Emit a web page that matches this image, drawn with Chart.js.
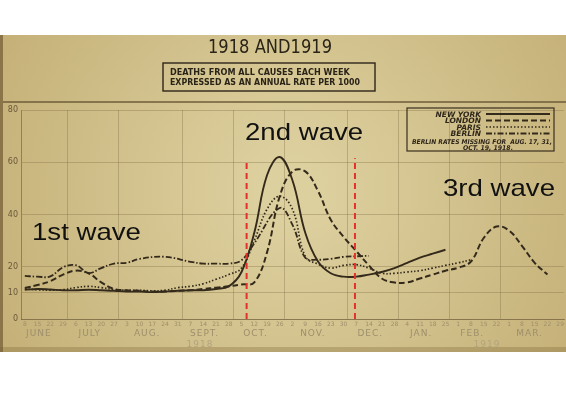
<!DOCTYPE html>
<html>
<head>
<meta charset="utf-8">
<script src="https://cdn.jsdelivr.net/npm/chart.js@4.4.1/dist/chart.umd.min.js"></script>
<style>
html, body { margin: 0; padding: 0; background: #fff; }
</style>
</head>
<body>
<canvas id="flu-chart" width="566" height="393"></canvas>
<script>
// week ending dates, June 1918 .. March 1919
const dayLabels = [8, 15, 22, 29, 6, 13, 20, 27, 3, 10, 17, 24, 31, 7, 14, 21, 28, 5, 12, 19, 26,
    2, 9, 16, 23, 30, 7, 14, 21, 28, 4, 11, 18, 25, 1, 8, 15, 22, 1, 8, 15, 22, 29];
const months = ["JUNE", "JULY", "AUG.", "SEPT.", "OCT.", "NOV.", "DEC.", "JAN.", "FEB.", "MAR."];
const monthWeeks = [4, 4, 5, 4, 4, 5, 4, 4, 4, 5];
const yTicks = [0, 10, 20, 40, 60, 80];

// deaths per 1000 (annual rate), one value per week from June 8
const newYork = [11.2, 11.5, 11.3, 11.0, 11.0, 11.2, 11.0, 10.8, 10.5, 10.5, 10.3, 10.5, 10.8, 11.0, 11.0, 11.5, 12.5,
    18, 33, 55, 62, 53, 33, 22, 17.5, 16.2, 16.2, 17, 18, 19.5, 21.5, 23.5, 25, 26.5];
const london = [11.9, 13, 14.5, 17, 18.5, 17.5, 14, 11.5, 11, 10.8, 10.5, 10.5, 10.8, 11, 11.5, 12, 12.5,
    13.2, 14, 25.5, 47, 56.5, 56.5, 49, 38, 31.5, 26, 20.5, 15.5, 14, 14, 15.5, 17, 18.5, 19.6, 22, 31, 35.4, 33.8, 28, 21.5, 17];
const paris = [11.5, 11.2, 11, 11.2, 12, 12.5, 12, 11.3, 11, 11, 10.8, 11, 12, 12.5, 13.5, 15.2, 17,
    19.5, 30, 42, 47, 42, 24, 21, 19.5, 20.5, 20.8, 19.5, 17.5, 17.5, 18, 18.5, 19.5, 20.5, 21.5, 22.7];
const berlin = [16.5, 16.2, 16.3, 19.8, 20.6, 17.6, 19.5, 21.2, 21.5, 23, null, 23.8, null, 21.9, 21.2, 21.2, 21.2,
    22.5, 29, null, 42.5, 36, 23.5, 22.7, 23, 23.8, 24, 24.2];

// red markers for the 2nd wave (week position, top value)
const waveLines = [17.4, 25.9];
const waveTops = [60, 61.5];

const ink = "#342a1b";
const toPoints = (arr) => arr.map((v, i) => ({ x: i, y: v }));

const cities = [
    { label: "NEW YORK", data: newYork, dash: [] , width: 1.9 },
    { label: "LONDON", data: london, dash: [6, 3], width: 2 },
    { label: "PARIS", data: paris, dash: [1.5, 2], width: 1.7 },
    { label: "BERLIN", data: berlin, dash: [6, 2, 1.5, 2], width: 1.8 },
];

const datasets = cities.map((c) => ({
    label: c.label,
    data: toPoints(c.data),
    borderColor: ink,
    borderWidth: c.width,
    borderDash: c.dash,
    pointRadius: 0,
    tension: 0.4,
    spanGaps: true,
    order: 1,
}));
waveLines.forEach((x, i) => datasets.push({
    label: "",
    data: [{ x: x, y: 0 }, { x: x, y: waveTops[i] }],
    borderColor: "#e2322b",
    borderWidth: 2,
    borderDash: [6, 4],
    pointRadius: 0,
    order: 0,
}));

const paper = {
    id: "paper",
    beforeDraw(chart) {
        const c = chart.ctx;
        c.save();
        c.fillStyle = "#fff";
        c.fillRect(0, 0, 566, 393);
        const g = c.createRadialGradient(290, 190, 30, 290, 190, 360);
        g.addColorStop(0, "#ddd09f");
        g.addColorStop(1, "#c2ad73");
        c.fillStyle = g;
        c.fillRect(0, 35, 566, 317);
        c.fillStyle = "#8b7548";
        c.fillRect(0, 35, 3, 317);
        c.fillStyle = "rgba(120,95,50,0.3)";
        c.fillRect(0, 347, 566, 5);

        c.strokeStyle = "#6e5c3a";
        c.lineWidth = 1.5;
        c.beginPath(); c.moveTo(3, 102); c.lineTo(566, 102); c.stroke();

        c.fillStyle = "#2a2418";
        c.textAlign = "center";
        c.textBaseline = "alphabetic";
        c.font = "19px 'DejaVu Sans'";
        c.fillText("1918 AND1919", 270, 53, 124);

        c.lineWidth = 1.4;
        c.strokeStyle = "#2e2619";
        c.strokeRect(163, 63, 212, 28);
        c.font = "bold 9px 'DejaVu Sans Condensed', 'DejaVu Sans'";
        c.textAlign = "left";
        c.fillText("DEATHS FROM ALL CAUSES EACH WEEK", 170, 75, 198);
        c.fillText("EXPRESSED AS AN ANNUAL RATE PER 1000", 170, 85, 190);
        c.restore();
    },
    beforeDatasetsDraw(chart) {
        const c = chart.ctx, xs = chart.scales.x, a = chart.chartArea;
        c.save();
        c.strokeStyle = "rgba(125,105,65,0.35)";
        c.lineWidth = 1;
        let w = 0;
        monthWeeks.slice(0, -1).forEach((n) => {
            w += n;
            const px = Math.round(xs.getPixelForValue(w - 0.7)) + 0.5;
            c.beginPath(); c.moveTo(px, a.top); c.lineTo(px, a.bottom); c.stroke();
        });
        c.restore();
    },
    afterDraw(chart) {
        const c = chart.ctx, xs = chart.scales.x;
        c.save();
        // month names and years
        c.fillStyle = "#9e8f6c";
        c.textAlign = "center";
        c.font = "9px 'DejaVu Sans'";
        if ("letterSpacing" in c) c.letterSpacing = "1px";
        let w = 0;
        months.forEach((m, i) => {
            const mid = w + (monthWeeks[i] - 1) / 2 - 0.4;
            c.fillText(m, xs.getPixelForValue(mid), 336);
            w += monthWeeks[i];
        });
        c.fillStyle = "#b3a47f";
        c.fillText("1918", 200, 347);
        c.fillText("1919", 487, 347);
        if ("letterSpacing" in c) c.letterSpacing = "0px";

        // legend box
        c.strokeStyle = "#3a2f1f";
        c.lineWidth = 1.2;
        c.strokeRect(407, 108, 147, 43);
        c.fillStyle = "#2e2619";
        c.textAlign = "right";
        c.font = "italic bold 7.5px 'DejaVu Sans'";
        const rows = [114, 120.5, 127, 133.5];
        chart.data.datasets.slice(0, 4).forEach((ds, i) => {
            c.fillText(ds.label, 481, rows[i] + 2.5, 50);
            c.strokeStyle = ds.borderColor;
            c.lineWidth = ds.borderWidth;
            c.setLineDash(ds.borderDash);
            c.beginPath(); c.moveTo(486, rows[i]); c.lineTo(550, rows[i]); c.stroke();
        });
        c.setLineDash([]);
        c.textAlign = "center";
        c.font = "italic bold 6.5px 'DejaVu Sans'";
        c.fillText("BERLIN RATES MISSING FOR  AUG. 17, 31,", 482, 144, 140);
        c.fillText("OCT. 19, 1918.", 488, 149.5, 50);

        // wave annotations
        c.fillStyle = "#111";
        c.textAlign = "left";
        c.font = "24px 'Liberation Sans', Arial, sans-serif";
        [["1st wave", 32, 240], ["2nd wave", 245, 140], ["3rd wave", 443, 196]].forEach(([t, x, y]) => {
            c.save();
            c.translate(x, y);
            c.scale(1.15, 1);
            c.fillText(t, 0, 0);
            c.restore();
        });
        c.restore();
    },
};

new Chart(document.getElementById("flu-chart"), {
    type: "line",
    data: { datasets: datasets },
    options: {
        responsive: false,
        animation: false,
        layout: { padding: { top: 110, bottom: 41, left: 0, right: 0 } },
        plugins: { legend: { display: false }, tooltip: { enabled: false } },
        scales: {
            x: {
                type: "linear",
                min: -0.3,
                max: 42.3,
                afterBuildTicks: (s) => { s.ticks = dayLabels.map((_, i) => ({ value: i })); },
                afterFit: (s) => { s.height = 33; },
                grid: { display: false, drawTicks: false },
                border: { display: true, color: "rgba(110,92,58,0.6)", width: 1 },
                ticks: {
                    autoSkip: false,
                    maxRotation: 0,
                    padding: 2,
                    color: "#a08f69",
                    font: { family: "DejaVu Sans", size: 6 },
                    callback: (v) => dayLabels[v],
                },
            },
            y: {
                min: 0,
                max: 80,
                afterBuildTicks: (s) => { s.ticks = yTicks.map((v) => ({ value: v })); },
                afterFit: (s) => { s.width = 21; },
                grid: { color: "rgba(125,105,65,0.35)", drawTicks: false },
                border: { display: true, color: "rgba(110,92,58,0.6)", width: 1 },
                ticks: {
                    padding: 3,
                    color: "#6a583a",
                    font: { family: "DejaVu Sans", size: 8 },
                },
            },
        },
    },
    plugins: [paper],
});
</script>
</body>
</html>
